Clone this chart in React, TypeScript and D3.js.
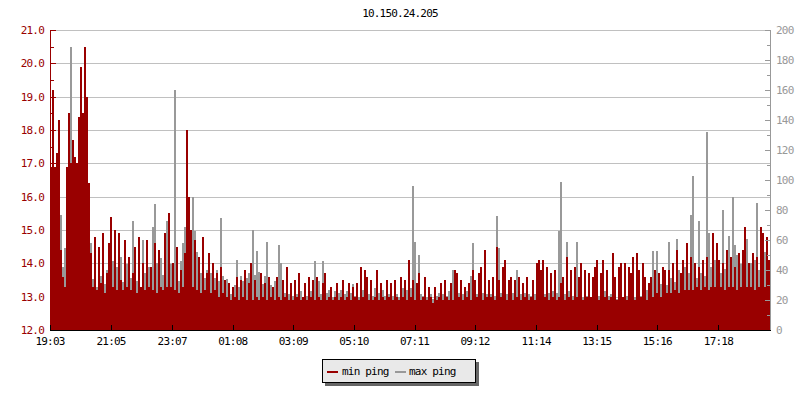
import React from "react";
import * as d3 from "d3";

const title = "10.150.24.205";
const seriesNames = ["min ping", "max ping"];
const leftTicks = [12, 13, 14, 15, 16, 17, 18, 19, 20, 21];
const rightTicks = [0, 20, 40, 60, 80, 100, 120, 140, 160, 180, 200];
const timeLabels = ["19:03", "21:05", "23:07", "01:08", "03:09", "05:10", "07:11", "09:12", "11:14", "13:15", "15:16", "17:18"];
const spanMinutes = 1438;

// min ping (ms, left axis) - one value per 4-minute step
const minPing = [
  16.9, 19.2, 16.9, 17.3, 18.3, 14.4, 13.6, 13.3, 16.9, 18.5,
  17.0, 17.7, 17.2, 17.0, 18.4, 19.9, 18.5, 20.5, 19.0, 16.4,
  14.3, 13.3, 14.8, 13.2, 14.5, 13.4, 14.9, 13.1, 13.7, 14.6,
  15.4, 13.3, 15.0, 13.2, 14.9, 13.5, 13.2, 14.7, 13.3, 14.2,
  13.2, 13.7, 14.5, 13.1, 14.8, 13.3, 14.0, 13.2, 14.7, 13.3,
  13.9, 13.2, 14.6, 13.1, 14.4, 13.3, 13.2, 14.9, 13.3, 15.5,
  13.3, 14.0, 13.2, 14.5, 13.1, 13.8, 13.3, 14.3, 18.0, 16.0,
  15.0, 13.3, 14.7, 13.2, 14.2, 13.1, 14.8, 13.2, 13.7, 14.3,
  13.1, 14.0, 13.2, 13.7, 13.0, 13.9, 13.1, 13.5, 13.0, 13.4,
  12.9, 13.3, 13.0, 13.6, 12.9, 13.5, 13.0, 13.8, 12.9, 13.4,
  14.0, 12.9, 13.5, 13.0, 12.9, 13.7, 13.0, 13.4, 12.9, 13.6,
  13.0, 13.3, 12.9, 13.6, 13.0, 12.9, 13.5, 13.0, 13.9, 12.9,
  13.4, 12.9, 13.5, 13.0, 13.7, 12.9, 13.0, 13.4, 12.9, 13.6,
  13.0, 13.5, 12.9, 13.6, 13.0, 12.9, 13.4, 13.7, 12.9, 13.0,
  13.3, 12.9, 13.0, 13.4, 12.9, 13.0, 13.5, 12.9, 13.0, 13.4,
  12.9, 13.3, 13.0, 13.4, 12.9, 13.9, 13.0, 13.8, 13.6, 12.9,
  13.5, 12.9, 13.0, 13.8, 12.9, 13.4, 13.0, 12.9, 13.5, 13.0,
  13.4, 12.9, 13.5, 13.0, 12.9, 13.6, 13.0, 13.5, 12.9, 14.1,
  13.0, 13.5, 12.9, 13.4, 13.7, 12.9, 13.0, 13.6, 12.9, 13.3,
  13.0, 12.8, 13.3, 12.9, 13.0, 13.4, 12.9, 13.5, 13.0, 12.9,
  13.4, 12.9, 13.8, 13.7, 13.0, 13.5, 12.9, 13.3, 13.0, 13.4,
  12.9, 13.8, 13.5, 13.0, 13.7, 13.9, 12.9, 14.4, 13.0, 13.5,
  13.0, 13.6, 12.9, 14.5, 13.5, 13.0, 13.9, 14.1, 12.9, 13.5,
  13.6, 12.9, 13.5, 13.0, 13.6, 12.9, 13.4, 13.0, 13.6, 12.9,
  13.0, 13.5, 12.9, 14.0, 14.1, 13.8, 14.1, 13.0, 13.9, 12.9,
  13.7, 13.0, 13.8, 12.9, 13.0, 13.4, 13.6, 12.9, 14.2, 13.0,
  13.8, 12.9, 13.9, 13.0, 13.6, 14.0, 12.9, 13.8, 13.0, 13.7,
  13.0, 13.6, 13.9, 14.1, 12.9, 13.7, 14.1, 13.0, 13.8, 12.9,
  13.0, 14.3, 13.6, 12.9, 13.9, 14.0, 13.0, 14.0, 12.9, 13.9,
  13.7, 14.2, 12.9, 14.3, 13.8, 13.0, 14.0, 13.6, 12.9, 13.4,
  13.6, 13.0, 13.8, 13.1, 13.7, 13.0, 13.9, 13.8, 13.1, 13.8,
  13.1, 14.0, 13.2, 14.4, 13.1, 13.7, 14.1, 13.2, 14.6, 13.2,
  14.2, 13.2, 14.0, 13.3, 13.9, 13.2, 14.1, 13.3, 14.2, 13.2,
  13.3, 14.9, 13.3, 14.6, 14.1, 13.3, 14.0, 13.2, 14.4, 13.3,
  14.2, 13.3, 13.9, 13.2, 14.3, 13.3, 14.4, 15.1, 13.3, 14.0,
  13.3, 14.3, 13.2, 14.2, 13.3, 15.1, 14.9, 13.3, 14.8, 14.1,
];

// max ping (ms, right axis)
const maxPing = [
  52, 66, 58, 62, 45, 77, 42, 55, 38, 48,
  189, 56, 60, 52, 58, 50, 55, 47, 42, 40,
  58, 34, 45, 29, 50, 36, 44, 31, 40, 30,
  38, 46, 30, 42, 36, 49, 32, 28, 44, 31,
  35, 73, 47, 33, 40, 29, 60, 38, 34, 42,
  36, 69, 84, 45, 31, 48, 37, 43, 73, 40,
  44, 38, 160, 50, 33, 46, 58, 69, 52, 47,
  62, 89, 66, 52, 44, 38, 43, 35, 40, 37,
  38, 42, 35, 40, 33, 75, 36, 30, 34, 27,
  24, 27, 30, 47, 29, 36, 33, 40, 35, 38,
  42, 67, 37, 53, 39, 34, 31, 36, 59, 35,
  30, 28, 33, 29, 57, 45, 27, 25, 28, 24,
  25, 23, 27, 24, 30, 26, 22, 25, 23, 27,
  26, 31, 46, 28, 33, 24, 46, 30, 25, 27,
  24, 22, 26, 23, 25, 27, 23, 24, 26, 22,
  25, 31, 23, 26, 22, 24, 27, 23, 25, 24,
  26, 23, 28, 22, 25, 24, 27, 23, 26, 24,
  25, 23, 27, 24, 22, 26, 28, 31, 27, 36,
  28, 96, 59, 26, 50, 24, 23, 25, 22, 27,
  24, 21, 18, 23, 25, 22, 24, 21, 23, 26,
  24, 40, 26, 23, 25, 28, 24, 22, 26, 23,
  36, 58, 27, 24, 26, 23, 25, 28, 24, 22,
  24, 26, 23, 76, 55, 25, 22, 26, 24, 27,
  23, 25, 22, 40, 26, 24, 23, 25, 27, 24,
  23, 26, 24, 22, 25, 23, 27, 24, 22, 25,
  24, 26, 23, 25, 66, 99, 27, 24, 59, 26,
  25, 23, 27, 59, 24, 26, 22, 25, 23, 27,
  22, 24, 21, 25, 23, 22, 24, 26, 21, 23,
  24, 22, 25, 21, 23, 24, 22, 26, 23, 22,
  23, 25, 22, 24, 26, 23, 25, 24, 27, 25,
  28, 53, 30, 53, 27, 31, 29, 33, 30, 59,
  35, 45, 32, 61, 40, 31, 36, 42, 33, 38,
  77, 103, 40, 35, 73, 38, 44, 36, 132, 65,
  42, 36, 47, 33, 44, 38, 80, 41, 35, 63,
  40, 89, 57, 50, 38, 44, 36, 47, 61, 42,
  45, 38, 47, 85, 40, 46, 43, 52, 41, 44,
];

const RED = "#990000";
const GREY = "#999999";
const FONT = "'DejaVu Sans Mono', monospace";

const X0 = 50, X1 = 770, Y0 = 330, Y1 = 30;

function minutesFromStart(label: string, start: string) {
  const [h, m] = label.split(":").map(Number);
  const [sh, sm] = start.split(":").map(Number);
  let d = h * 60 + m - (sh * 60 + sm);
  if (d < 0) d += 1440;
  return d;
}

export default function App() {
  const yL = d3.scaleLinear().domain([12, 21]).range([Y0, Y1]);
  const yR = d3.scaleLinear().domain([0, 200]).range([Y0, Y1]);
  const xI = d3.scaleLinear().domain([0, minPing.length]).range([X0, X1]);
  const xT = d3.scaleLinear().domain([0, spanMinutes]).range([X0, X1]);

  const leftMinor = d3.range(12.5, 21, 1);
  const rightMinor = d3.range(10, 200, 20);

  const textStyle = { fontFamily: FONT, fontSize: 11, letterSpacing: -0.8 } as React.CSSProperties;

  return (
    <svg width={800} height={400} style={{ position: "absolute", left: 0, top: 0, background: "#fff" }}>
      <rect x={0} y={0} width={800} height={400} fill="#fff" />
      <text x={400} y={17} textAnchor="middle" fill="#000" style={textStyle}>{title}</text>

      {/* gridlines */}
      {leftTicks.slice(1).map((v) => (
        <line key={"g" + v} x1={X0} x2={X1} y1={Math.round(yL(v)) + 0.5} y2={Math.round(yL(v)) + 0.5} stroke="#c0c0c0" strokeWidth={1} />
      ))}

      {/* max ping (behind) */}
      <g shapeRendering="crispEdges">
        {maxPing.map((v, i) => (
          <rect key={"mx" + i} x={xI(i)} width={xI(i + 1) - xI(i)} y={yR(v)} height={Y0 - yR(v)} fill={GREY} />
        ))}
      </g>
      {/* min ping */}
      <g shapeRendering="crispEdges">
        {minPing.map((v, i) => (
          <rect key={"mn" + i} x={xI(i)} width={xI(i + 1) - xI(i)} y={yL(v)} height={Y0 - yL(v)} fill={RED} />
        ))}
      </g>

      {/* left axis */}
      <g shapeRendering="crispEdges">
        <line x1={X0 + 0.5} x2={X0 + 0.5} y1={Y1} y2={Y0} stroke={RED} />
        {leftTicks.map((v) => (
          <line key={"lt" + v} x1={X0} x2={X0 + 6} y1={Math.round(yL(v)) + 0.5} y2={Math.round(yL(v)) + 0.5} stroke={RED} />
        ))}
        {leftMinor.map((v) => (
          <line key={"lm" + v} x1={X0} x2={X0 + 4} y1={Math.round(yL(v)) + 0.5} y2={Math.round(yL(v)) + 0.5} stroke={RED} />
        ))}
      </g>
      {leftTicks.map((v) => (
        <text key={"ll" + v} x={44} y={yL(v) + 4} textAnchor="end" fill={RED} style={textStyle}>{v.toFixed(1)}</text>
      ))}

      {/* right axis */}
      <g shapeRendering="crispEdges">
        <line x1={X1 + 0.5} x2={X1 + 0.5} y1={Y1} y2={Y0} stroke={GREY} />
        {rightTicks.map((v) => (
          <line key={"rt" + v} x1={X1 - 5} x2={X1 + 1} y1={Math.round(yR(v)) + 0.5} y2={Math.round(yR(v)) + 0.5} stroke={GREY} />
        ))}
        {rightMinor.map((v) => (
          <line key={"rm" + v} x1={X1 - 3} x2={X1 + 1} y1={Math.round(yR(v)) + 0.5} y2={Math.round(yR(v)) + 0.5} stroke={GREY} />
        ))}
      </g>
      {rightTicks.map((v) => (
        <text key={"rl" + v} x={776} y={yR(v) + 4} textAnchor="start" fill={GREY} style={textStyle}>{v}</text>
      ))}

      {/* x axis */}
      <g shapeRendering="crispEdges">
        <line x1={X0} x2={X1 + 1} y1={Y0 + 0.5} y2={Y0 + 0.5} stroke="#000" />
        {timeLabels.map((t) => {
          const x = Math.round(xT(minutesFromStart(t, timeLabels[0]))) + 0.5;
          return <line key={"xt" + t} x1={x} x2={x} y1={Y0 - 5} y2={Y0 + 1} stroke="#000" />;
        })}
      </g>
      {timeLabels.map((t) => (
        <text key={"xl" + t} x={xT(minutesFromStart(t, timeLabels[0]))} y={345} textAnchor="middle" fill="#000" style={textStyle}>{t}</text>
      ))}

      {/* legend */}
      <rect x={325} y={362} width={154} height={24} fill="#666" />
      <rect x={322.5} y={359.5} width={153} height={23} fill="#e9e9e9" stroke="#000" strokeWidth={1} />
      <line x1={327} x2={338} y1={372} y2={372} stroke={RED} strokeWidth={2} />
      <text x={342} y={375} fill="#000" style={textStyle}>{seriesNames[0]}</text>
      <line x1={395} x2={406} y1={372} y2={372} stroke={GREY} strokeWidth={2} />
      <text x={409} y={375} fill="#000" style={textStyle}>{seriesNames[1]}</text>
    </svg>
  );
}
